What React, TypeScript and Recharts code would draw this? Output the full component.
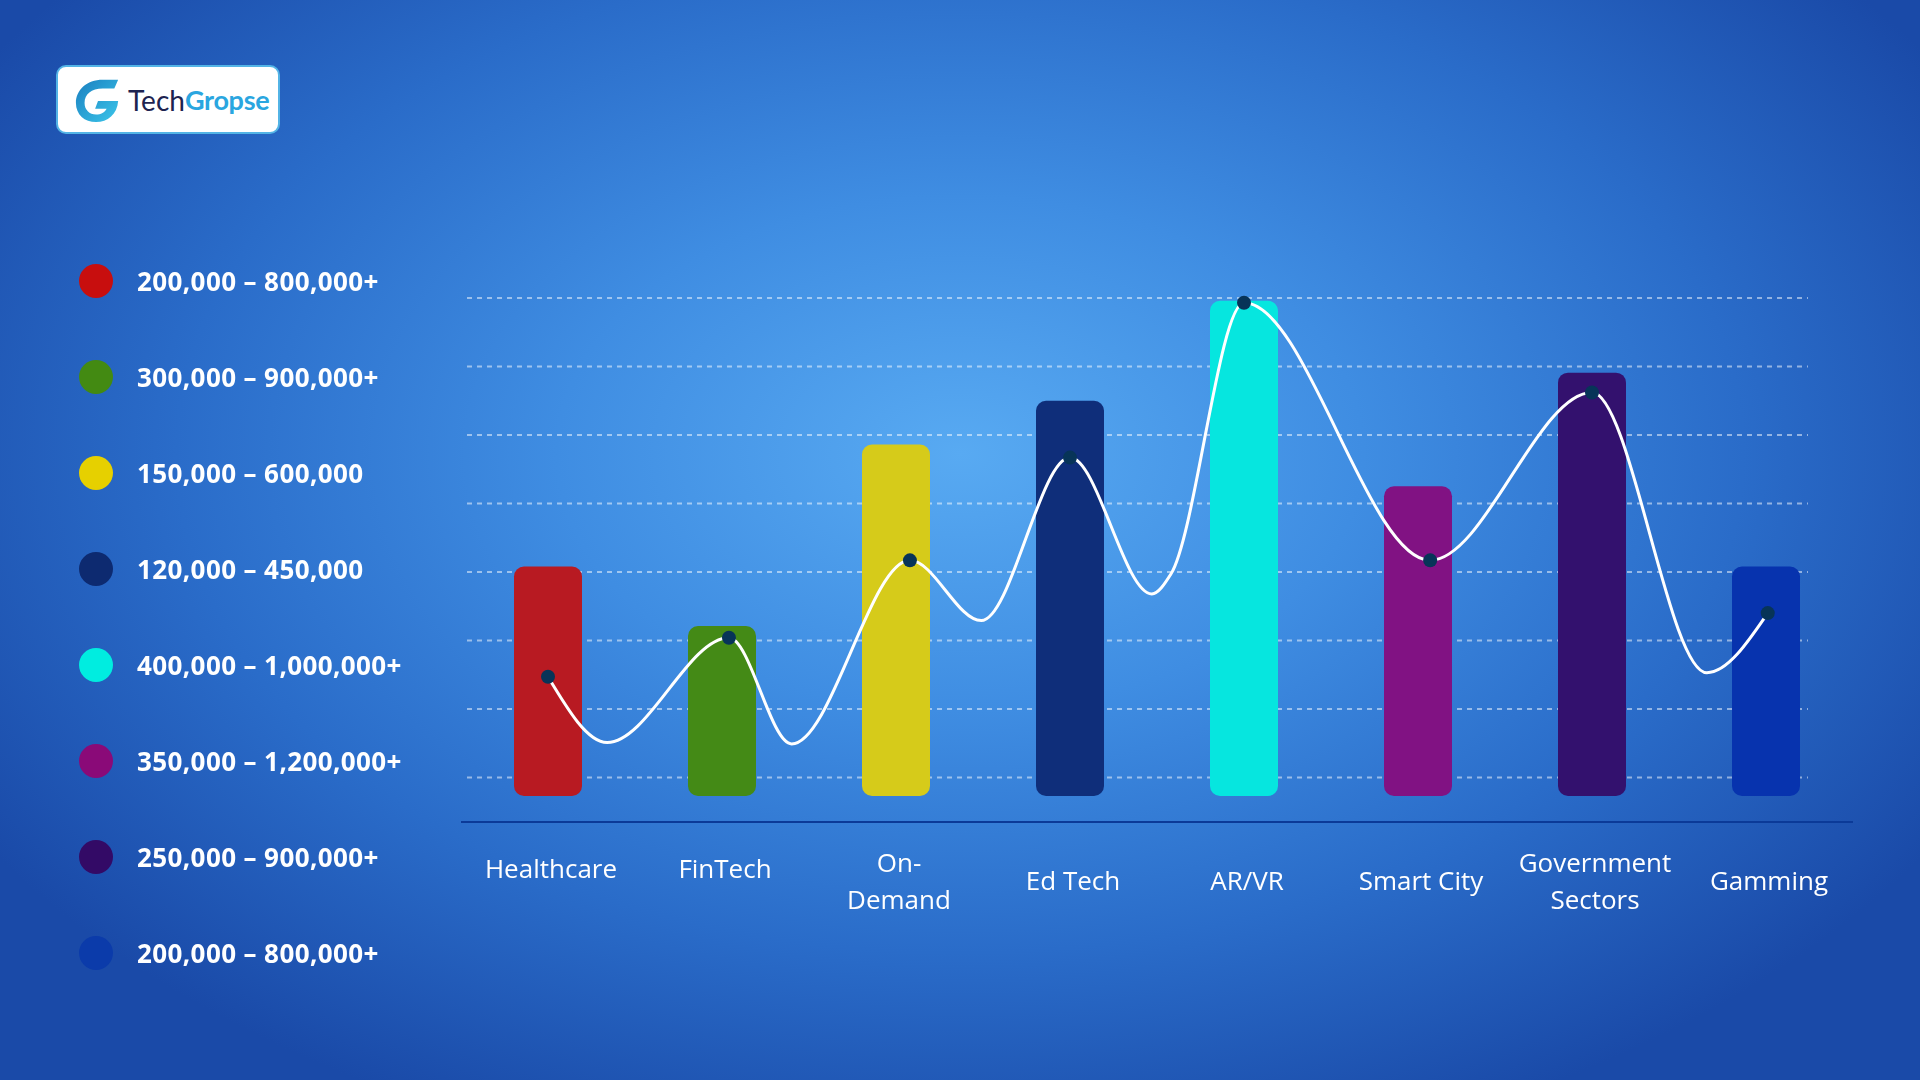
import { BarChart, Bar, Cell, XAxis, YAxis, CartesianGrid, LineChart, Line } from 'recharts';

const categories = ['Healthcare', 'FinTech', 'On-\nDemand', 'Ed Tech', 'AR/VR', 'Smart City', 'Government\nSectors', 'Gamming'];
const barValues = [3.35, 2.48, 5.13, 5.77, 7.23, 4.52, 6.18, 3.35];
const barColors = ['#b81a22', '#448a16', '#d6cb1a', '#0f2e7a', '#06e6df', '#811283', '#33116e', '#0733ae'];

const legendRanges = [
    '200,000 – 800,000+',
    '300,000 – 900,000+',
    '150,000 – 600,000',
    '120,000 – 450,000',
    '400,000 – 1,000,000+',
    '350,000 – 1,200,000+',
    '250,000 – 900,000+',
    '200,000 – 800,000+',
];
const legendColors = ['#c80e0e', '#438a12', '#e6d000', '#0d2a70', '#00ede0', '#8a0a78', '#330a66', '#0b3baa'];

// white trend curve: x in category units (0..8), y in grid units
const lineX = [0.5, 0.84, 1.54, 1.9, 2.58, 2.99, 3.5, 3.97, 4.08, 4.5, 5.57, 6.5, 7.16, 7.51];
const lineY = [1.74, 0.78, 2.31, 0.76, 3.44, 2.56, 4.94, 2.95, 3.24, 7.2, 3.44, 5.89, 1.8, 2.67];
const lineMarked = [true, false, true, false, true, false, true, false, false, true, true, true, false, true];

const gridTicks = [0.27, 1.27, 2.27, 3.27, 4.27, 5.27, 6.27, 7.27];
const Y_DOMAIN: [number, number] = [-0.38, 7.62];

const barData = categories.map((name, i) => ({ name, value: barValues[i] }));
const lineData = lineX.map((x, i) => ({ x, y: lineY[i] }));

const W = 1920;
const H = 1080;
const PLOT = { top: 274, right: 67, bottom: 258, left: 461 };
const AXIS_H = 80;
const FONT = '"Open Sans", "Noto Sans", sans-serif';

function CategoryTick({ x, y, payload, index }: any) {
    const lines = String(payload.value).split('\n');
    // the first two labels sit a little higher in the original
    const centre = y + (lines.length > 1 ? 58.5 : index < 2 ? 46 : 58);
    const step = 37;
    const first = centre - ((lines.length - 1) * step) / 2;
    return (
        <text x={x} textAnchor="middle" fill="#ffffff" fontSize={26} fontFamily={FONT} dominantBaseline="central">
            {lines.map((l, i) => (
                <tspan key={i} x={x + 3} y={first + i * step}>
                    {l}
                </tspan>
            ))}
        </text>
    );
}

function renderDot(props: any) {
    const { cx, cy, index } = props;
    if (!lineMarked[index]) return <g key={`dot-${index}`} />;
    return <circle key={`dot-${index}`} cx={cx} cy={cy} r={7} fill="#073458" />;
}

// horizontal grid rows at the grid tick values, mapped into the plot box
function gridRows(props: any) {
    const o = props && props.offset && props.offset.height ? props.offset : { top: PLOT.top, height: H - PLOT.top - PLOT.bottom };
    const span = Y_DOMAIN[1] - Y_DOMAIN[0];
    return gridTicks.map((t) => o.top + (o.height * (Y_DOMAIN[1] - t)) / span);
}

function Logo() {
    return (
        <div
            style={{
                position: 'absolute',
                left: 56,
                top: 65,
                width: 220,
                height: 65,
                background: '#ffffff',
                border: '2px solid #53b4e6',
                borderRadius: 10,
                display: 'flex',
                alignItems: 'center',
            }}
        >
            <svg width={48} height={48} viewBox="0 0 50 50" style={{ marginLeft: 16 }}>
                <defs>
                    <linearGradient id="lg" x1="0" y1="0" x2="1" y2="1">
                        <stop offset="0%" stopColor="#1a7fc0" />
                        <stop offset="100%" stopColor="#3cc6ea" />
                    </linearGradient>
                </defs>
                <path
                    d="M46 4 L30 4 C13 4 2 15 2 28 C2 40 11 48 23 48 C35 48 45 40 46 26 L25 26 L22 34 L34 34 C32 38 28 40 23 40 C16 40 11 35 11 28 C11 19 18 13 30 13 L42 13 Z"
                    fill="url(#lg)"
                />
            </svg>
            <span style={{ fontFamily: '"Liberation Sans Narrow", Lato, sans-serif', fontSize: 28, marginLeft: 6, color: '#1d2350' }}>
                Tech
            </span>
            <span style={{ fontFamily: 'Lato, sans-serif', fontSize: 27, fontWeight: 700, color: '#2aa6e0', letterSpacing: -0.3 }}>
                Gropse
            </span>
        </div>
    );
}

function Legend() {
    return (
        <div>
            {legendRanges.map((label, i) => (
                <div key={i} style={{ position: 'absolute', left: 79, top: 264 + i * 96, height: 34, display: 'flex', alignItems: 'center' }}>
                    <div style={{ width: 34, height: 34, borderRadius: '50%', background: legendColors[i] }} />
                    <span
                        style={{
                            marginLeft: 24,
                            color: '#ffffff',
                            fontFamily: FONT,
                            fontWeight: 700,
                            fontSize: 26,
                            letterSpacing: 0.4,
                            whiteSpace: 'nowrap',
                        }}
                    >
                        {label}
                    </span>
                </div>
            ))}
        </div>
    );
}

export default function App() {
    return (
        <div
            style={{
                position: 'fixed',
                left: 0,
                top: 0,
                width: W,
                height: H,
                overflow: 'hidden',
                background:
                    'radial-gradient(ellipse 60% 68% at 50% 42%, #58aaf2 0%, #3f8de2 35%, #2a6cc9 68%, #1a4aa8 100%)',
            }}
        >
            <Logo />
            <Legend />
            <div style={{ position: 'absolute', left: 0, top: 0 }}>
                <BarChart
                    width={W}
                    height={H}
                    data={barData}
                    margin={{ top: PLOT.top, right: PLOT.right, bottom: PLOT.bottom - AXIS_H, left: PLOT.left }}
                >
                    <CartesianGrid
                        vertical={false}
                        x={467}
                        width={1341}
                        stroke="rgba(255,255,255,0.5)"
                        strokeDasharray="5 5"
                        strokeWidth={2}
                        horizontalCoordinatesGenerator={gridRows}
                    />
                    <XAxis
                        dataKey="name"
                        height={AXIS_H}
                        tickLine={false}
                        tickSize={0}
                        tickMargin={0}
                        interval={0}
                        axisLine={{ stroke: '#0b3a98', strokeWidth: 2 }}
                        tick={<CategoryTick />}
                    />
                    <YAxis hide type="number" domain={Y_DOMAIN} ticks={gridTicks} />
                    <Bar dataKey="value" barSize={68} radius={10} isAnimationActive={false}>
                        {barData.map((d, i) => (
                            <Cell key={`bar-${i}`} fill={barColors[i]} />
                        ))}
                    </Bar>
                </BarChart>
            </div>
            <div style={{ position: 'absolute', left: 0, top: 0 }}>
                <LineChart width={W} height={H} data={lineData} margin={PLOT}>
                    <XAxis hide type="number" dataKey="x" domain={[0, 8]} />
                    <YAxis hide type="number" domain={Y_DOMAIN} />
                    <Line
                        type="monotone"
                        dataKey="y"
                        stroke="#ffffff"
                        strokeWidth={3}
                        dot={renderDot}
                        activeDot={false}
                        isAnimationActive={false}
                    />
                </LineChart>
            </div>
        </div>
    );
}
